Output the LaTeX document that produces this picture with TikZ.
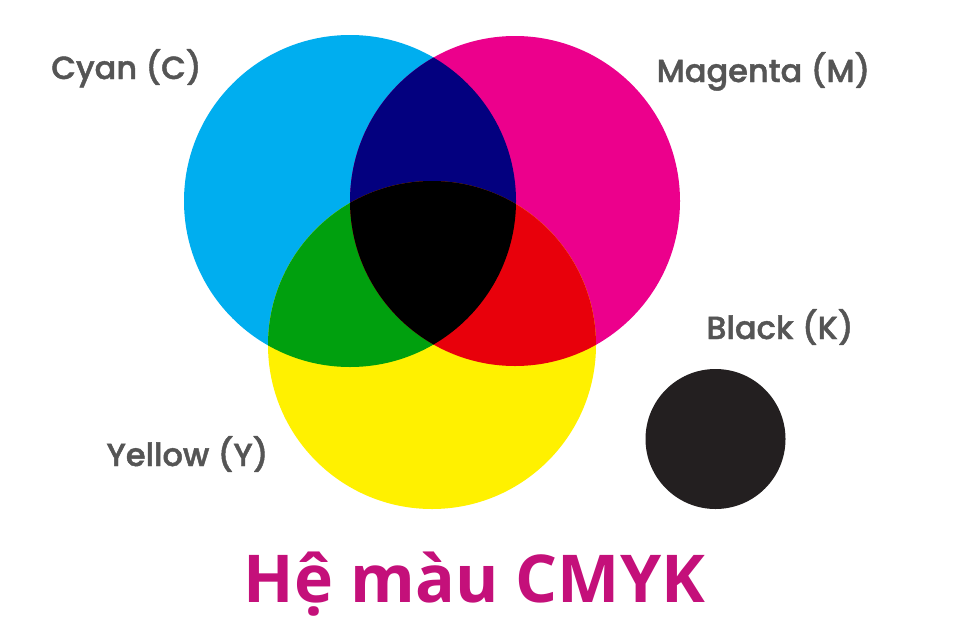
\documentclass[tikz,border=0pt]{standalone}
\usepackage{fontspec}
\newfontfamily\labfont{Poppins}[UprightFont=* Medium, FakeBold=1.4]
\newfontfamily\titlefont{Open Sans}[UprightFont=* Bold]
\definecolor{cC}{HTML}{00AEEF}
\definecolor{cM}{HTML}{EC008C}
\definecolor{cY}{HTML}{FFF100}
\definecolor{cB}{HTML}{03007F}
\definecolor{cG}{HTML}{00A00E}
\definecolor{cR}{HTML}{E8000B}
\definecolor{cK}{HTML}{231F20}
\definecolor{labgray}{HTML}{555555}
\definecolor{titlecol}{HTML}{C4107A}
\begin{document}
\begin{tikzpicture}[x=1pt,y=-1pt,
  lab/.style={font=\labfont\fontsize{32}{38}\selectfont, text=labgray, anchor=base, inner sep=0pt},
  ttl/.style={font=\titlefont\fontsize{66}{78}\selectfont, text=titlecol, anchor=base, inner sep=0pt}]
\useasboundingbox[fill=white] (0,0) rectangle (960,640);
\def\cyanc{(350,201) circle[radius=166]}
\def\magc{(515,201) circle[radius=165]}
\def\yelc{(432,345) circle[radius=164]}
\fill[cC] \cyanc;
\fill[cM] \magc;
\fill[cY] \yelc;
\begin{scope}\clip \cyanc; \fill[cB] \magc; \end{scope}
\begin{scope}\clip \cyanc; \fill[cG] \yelc; \end{scope}
\begin{scope}\clip \magc; \fill[cR] \yelc; \end{scope}
\begin{scope}\clip \cyanc; \clip \magc; \fill[black] \yelc; \end{scope}
\fill[cK] (715.5,439) circle[radius=70];
\node[lab] (c) at (126.5,79) {Cyan (C)};
\node[lab] (m) at (763.5,82) {Magenta (M)};
\node[lab] (y) at (187.5,466) {Yellow (Y)};
\node[lab] (k) at (780,339) {Black (K)};
\node[ttl] (t) at (474.5,602) {Hệ màu CMYK};
\end{tikzpicture}
\end{document}
